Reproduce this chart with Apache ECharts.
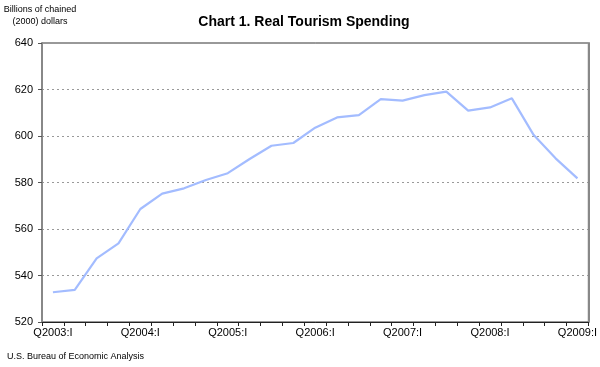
<!DOCTYPE html>
<html><head><meta charset="utf-8">
<script src="https://cdn.jsdelivr.net/npm/echarts@6/dist/echarts.min.js"></script>
<style>html,body{margin:0;padding:0;background:#fff}#c{width:600px;height:367px}</style>
</head><body><div id="c"></div>
<script>
var categories = ['Q2003:I','Q2003:II','Q2003:III','Q2003:IV','Q2004:I','Q2004:II','Q2004:III','Q2004:IV','Q2005:I','Q2005:II','Q2005:III','Q2005:IV','Q2006:I','Q2006:II','Q2006:III','Q2006:IV','Q2007:I','Q2007:II','Q2007:III','Q2007:IV','Q2008:I','Q2008:II','Q2008:III','Q2008:IV','Q2009:I'];
var spending = [532.8,533.8,547.4,553.8,568.6,575.2,577.5,581.1,584.0,590.1,595.8,597.0,603.6,608.0,609.0,615.9,615.2,617.6,619.1,610.9,612.3,616.2,600.4,590.4,581.8];
var yTicks = [520,540,560,580,600,620,640];
var F = 'Liberation Sans, Arial, sans-serif';
var chart = echarts.init(document.getElementById('c'), null, {renderer:'canvas'});
chart.setOption({
  animation:false,
  backgroundColor:'#fff',
  title:[{text:'Chart 1. Real Tourism Spending', left:304, top:15, textAlign:'center', padding:0,
    textStyle:{fontFamily:F, fontSize:14, fontWeight:'bold', color:'#000'}},
   {text:'Billions of chained\n(2000) dollars', left:40, top:4, textAlign:'center', padding:0,
    textStyle:{fontFamily:F, fontSize:9, fontWeight:'normal', color:'#000', lineHeight:12}},
   {text:'U.S. Bureau of Economic Analysis', left:7, top:352, padding:0,
    textStyle:{fontFamily:F, fontSize:9, fontWeight:'normal', color:'#000'}}],
  grid:{left:42, right:11, top:43, bottom:45, show:true, borderColor:'#333', borderWidth:1},
  xAxis:{type:'category', data:categories, boundaryGap:true,
    axisLine:{lineStyle:{color:'#222', width:1}},
    axisTick:{show:true, interval:0, length:4, lineStyle:{color:'#222'}},
    axisLabel:{interval:3, color:'#000', fontFamily:F, fontSize:11, margin:5}},
  yAxis:[{type:'value', min:yTicks[0], max:yTicks[yTicks.length-1], interval:20,
    axisLine:{show:true, lineStyle:{color:'#888', width:2}},
    axisTick:{show:true, length:4, inside:false, lineStyle:{color:'#555'}},
    axisLabel:{color:'#000', fontFamily:F, fontSize:11, margin:9},
    splitLine:{show:true, lineStyle:{color:'#999', type:[2,3], width:1}}},
   {type:'value', position:'right', min:yTicks[0], max:yTicks[yTicks.length-1], interval:20,
    axisLine:{show:true, lineStyle:{color:'#888', width:2}},
    axisTick:{show:false}, axisLabel:{show:false}, splitLine:{show:false}}],
  series:[{type:'line', data:spending, symbol:'none', smooth:false,
    lineStyle:{color:'#A3BCFF', width:2.2}}]
});
</script></body></html>
